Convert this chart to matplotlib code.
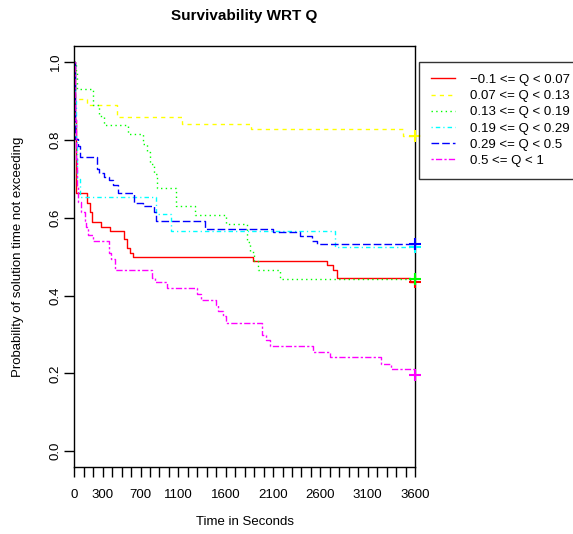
import matplotlib
matplotlib.use("Agg")
import matplotlib.pyplot as plt

plt.rcParams['font.family'] = ['Liberation Sans', 'DejaVu Sans']

# ---- data (Kaplan-Meier step curves) ----
labels = ["\u22120.1 <= Q < 0.07", "0.07 <= Q < 0.13", "0.13 <= Q < 0.19",
          "0.19 <= Q < 0.29", "0.29 <= Q < 0.5", "0.5 <= Q < 1"]

red_t = [0, 5, 15, 23, 134, 161, 192, 277, 377, 525, 552, 589, 615, 1888, 2673, 2734, 2779, 3547, 3600]
red_s = [1.0, 0.85, 0.75, 0.664, 0.639, 0.614, 0.588, 0.577, 0.566, 0.545, 0.521, 0.510, 0.500, 0.489, 0.478, 0.466, 0.446, 0.436, 0.436]

yel_t = [0, 8, 134, 451, 1138, 1867, 3473, 3600]
yel_s = [1.0, 0.906, 0.890, 0.858, 0.842, 0.827, 0.810, 0.810]

grn_t = [0, 18, 32, 198, 261, 311, 567, 731, 768, 800, 842, 874, 1075, 1275, 1603, 1825, 1857, 1899, 1941, 2174, 3600]
grn_s = [1.0, 0.976, 0.932, 0.890, 0.861, 0.838, 0.814, 0.789, 0.768, 0.737, 0.712, 0.677, 0.629, 0.606, 0.583, 0.537, 0.511, 0.489, 0.466, 0.443, 0.443]

cyn_t = [0, 5, 15, 30, 60, 863, 1022, 2755, 3600]
cyn_s = [1.0, 0.90, 0.80, 0.70, 0.652, 0.609, 0.566, 0.525, 0.525]

blu_t = [0, 8, 39, 60, 245, 266, 314, 367, 409, 462, 631, 726, 842, 863, 1381, 2103, 2385, 2512, 2565, 3600]
blu_s = [1.0, 0.801, 0.784, 0.757, 0.724, 0.714, 0.704, 0.696, 0.685, 0.664, 0.639, 0.630, 0.615, 0.592, 0.572, 0.562, 0.552, 0.540, 0.532, 0.532]

mag_t = [0, 5, 15, 25, 39, 71, 108, 124, 145, 198, 367, 388, 425, 826, 853, 980, 1297, 1339, 1497, 1518, 1571, 1608,
         1987, 2026, 2063, 2522, 2697, 3241, 3346, 3595, 3600]
mag_s = [1.0, 0.85, 0.75, 0.68, 0.640, 0.614, 0.591, 0.575, 0.555, 0.539, 0.509, 0.493, 0.465, 0.446, 0.434, 0.419, 0.403,
         0.389, 0.375, 0.360, 0.347, 0.329, 0.298, 0.286, 0.270, 0.254, 0.241, 0.225, 0.211, 0.195, 0.195]

x_ticks = list(range(0, 3601, 100))
x_labelled = [0, 300, 700, 1100, 1600, 2100, 2600, 3100, 3600]
y_ticks = [0.0, 0.2, 0.4, 0.6, 0.8, 1.0]

series = [(red_t, red_s), (yel_t, yel_s), (grn_t, grn_s), (cyn_t, cyn_s), (blu_t, blu_s), (mag_t, mag_s)]
colors = ["#FF0000", "#FFFF00", "#00FF00", "#00FFFF", "#0000FF", "#FF00FF"]
styles = ["-", (0, (3, 3)), (0, (1, 2.4)), (0, (0.9, 2.2, 3.2, 2.2)), (0, (5.5, 2.2)), (0, (1.6, 1.6, 4.5, 1.6))]

W, H = 573, 534
fig = plt.figure(figsize=(W / 100, H / 100), dpi=100)
L, R, T, B = 74.3, 415.0, 46.5, 466.7
ax = fig.add_axes([L / W, 1 - B / H, (R - L) / W, (B - T) / H])

handles = []
for (t, s), c, ls, lab in zip(series, colors, styles, labels):
    h, = ax.step(t, s, where="post", color=c, linestyle=ls, linewidth=1.0, label=lab)
    handles.append(h)
    ax.plot([t[-1]], [s[-1]], marker="+", color=c, markersize=8, mew=1.5, clip_on=False, zorder=5)

ax.set_xlim(0, 3600)
ax.set_ylim(-0.04, 1.04)
ax.set_xticks(x_ticks)
ax.set_xticklabels([str(v) if v in x_labelled else "" for v in x_ticks])
ax.set_yticks(y_ticks)
ax.set_yticklabels([f"{v:.1f}" for v in y_ticks], rotation=90, va="center")
ax.tick_params(axis="both", direction="out", length=7, width=1, labelsize=9.5, colors="black")
ax.tick_params(axis="x", pad=9)
ax.tick_params(axis="y", pad=2)
for sp in ax.spines.values():
    sp.set_linewidth(1.0)
    sp.set_color("black")

fig.text(244.6 / W, 1 - 16 / H, "Survivability WRT Q", ha="center", va="center",
         fontsize=11, fontweight="bold")
fig.text(244.6 / W, 1 - 522 / H, "Time in Seconds", ha="center", va="center", fontsize=9.5)
fig.text(18 / W, 1 - 256.6 / H, "Probability of solution time not exceeding", ha="center", va="center",
         rotation=90, fontsize=9.5)

leg = fig.legend(handles=handles, labels=labels, loc="upper left",
                 bbox_to_anchor=(419 / W, 1 - 62 / H), fontsize=9.5, frameon=True, fancybox=False,
                 handlelength=1.8, handletextpad=1.15, labelspacing=0.30, borderpad=0.9,
                 borderaxespad=0)
leg.get_frame().set_edgecolor("black")
leg.get_frame().set_linewidth(1.0)

fig.savefig("out.png", dpi=100)
